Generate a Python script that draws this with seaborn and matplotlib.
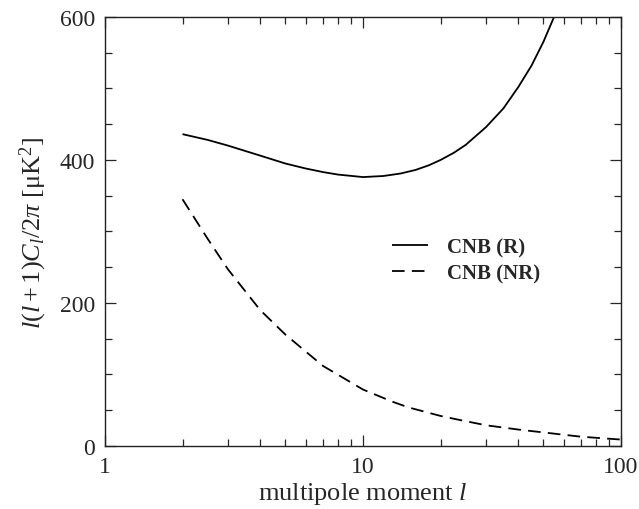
import numpy as np
import pandas as pd
import matplotlib
matplotlib.use("Agg")
import matplotlib.pyplot as plt
import seaborn as sns
from matplotlib.ticker import MultipleLocator, LogLocator, NullFormatter, FixedLocator

# values
l_R = [2, 2.5, 3, 4, 5, 6, 7, 8, 10, 12, 14, 16, 18, 20, 22.5, 25, 30, 35, 40, 45, 50, 55, 57]
cl_R = [436, 428, 420, 406, 395, 388, 383, 379.5, 376, 377.5, 381, 386, 392.5, 400, 410, 421, 446, 472, 502, 532, 565, 600, 615]

l_NR = [2, 2.5, 3, 4, 5, 7, 10, 13, 15, 20, 24, 30, 40, 50, 70, 100]
cl_NR = [345, 290, 247, 190, 156, 112, 79, 62, 54, 42, 36, 29, 23, 19, 13, 9]

labels = ["CNB (R)", "CNB (NR)"]

df = pd.concat([
    pd.DataFrame({"l": l_R, "cl": cl_R, "model": labels[0]}),
    pd.DataFrame({"l": l_NR, "cl": cl_NR, "model": labels[1]}),
])

sns.set_style("ticks")
plt.rcParams["font.family"] = ["Liberation Serif", "DejaVu Serif"]
plt.rcParams["mathtext.fontset"] = "custom"
plt.rcParams["mathtext.rm"] = "Liberation Serif"
plt.rcParams["mathtext.it"] = "Liberation Serif:italic"

fig = plt.figure(figsize=(6.39, 5.10), dpi=100)
ax = fig.add_axes([0.164, 0.1235, 0.808, 0.8415])

sns.lineplot(data=df, x="l", y="cl", hue="model", style="model",
             palette=["black", "black"], dashes=[(1, 0), (7, 4)],
             linewidth=1.3, ax=ax, sort=False)

ax.set_xscale("log")
ax.set_xlim(1, 100)
ax.set_ylim(0, 600)
ax.set_xticks([1, 10, 100])
ax.set_xticklabels(["1", "10", "100"])
ax.xaxis.set_minor_locator(LogLocator(base=10, subs=np.arange(2, 10)))
ax.xaxis.set_minor_formatter(NullFormatter())
ax.yaxis.set_major_locator(FixedLocator([0, 200, 400, 600]))
ax.yaxis.set_minor_locator(MultipleLocator(50))

ax.tick_params(which="both", direction="in", top=True, right=True,
               labelsize=17, width=0.9, pad=7)
ax.tick_params(which="major", length=8)
ax.tick_params(which="minor", length=5)
for s in ax.spines.values():
    s.set_linewidth(1.0)
    s.set_color("#222222")

ax.set_xlabel("multipole moment $l$", fontsize=19, labelpad=2)
ax.set_ylabel(r"$l(l+1)C_l/2\pi$ [$\mathrm{\mu K}^2$]", fontsize=19, labelpad=8)

ax.legend(handles=ax.get_legend().legend_handles if ax.get_legend() else None,
          labels=labels, loc="center left", bbox_to_anchor=(0.556, 0.432),
          frameon=False, borderaxespad=0, borderpad=0, handlelength=1.75,
          handletextpad=0.9, labelspacing=0.3,
          prop={"family": "Liberation Serif", "weight": "bold", "size": 15})

fig.savefig("out.png", dpi=100)
